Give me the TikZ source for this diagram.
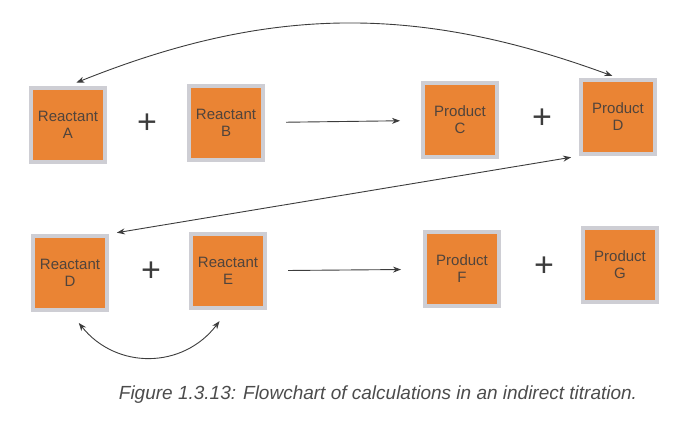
\documentclass[tikz,border=0pt]{standalone}
\usepackage{fontspec}
\setmainfont{Liberation Sans}
\usetikzlibrary{arrows.meta, positioning, calc, shadows}

\definecolor{boxorange}{RGB}{234,132,52}
\definecolor{framegray}{RGB}{206,206,212}
\definecolor{linegray}{RGB}{60,60,60}
\definecolor{textgray}{RGB}{80,68,60}

\begin{document}
\begin{tikzpicture}[x=1pt, y=1pt,
        node distance=80pt and 80pt, % gap between frames
        % styles
        chem/.style={rectangle, minimum width=74pt, minimum height=74pt, inner sep=0pt, fill=boxorange, draw=framegray, line width=4pt, drop shadow={shadow xshift=1.5pt, shadow yshift=-1.5pt, fill=black!40}, text=textgray, font=\fontsize{15}{17}\selectfont, align=center},
        plussign/.style={font=\fontsize{34}{34}\selectfont, text=linegray, inner sep=0pt},
        arrow/.style={line width=0.9pt, draw=linegray, -{Stealth[length=8pt,width=6pt]}},
        twoway/.style={line width=0.9pt, draw=linegray, {Stealth[length=8pt,width=6pt]}-{Stealth[length=8pt,width=6pt]}} ]

    \useasboundingbox (0,0) rectangle (692,-422);

    % --- ROW 1: A + B -> C + D ---
    \node (reacA) [chem] at (68,-125) {Reactant\\A};
    \node (reacB) [chem, right=of reacA, yshift=2pt] {Reactant\\B};
    \node (prodC) [chem, right=156pt of reacB, yshift=3pt] {Product\\C};
    \node (prodD) [chem, right=of prodC, yshift=3pt] {Product\\D};

    % --- ROW 2: D + E -> F + G ---
    \node (reacD) [chem] at (70,-273) {Reactant\\D};
    \node (reacE) [chem, right=of reacD, yshift=2pt] {Reactant\\E};
    \node (prodF) [chem, right=156pt of reacE, yshift=2pt] {Product\\F};
    \node (prodG) [chem, right=of prodF, yshift=4pt] {Product\\G};

    % plus signs
    \node (plus1) [plussign] at ($(reacA)!0.5!(reacB)$) {+};
    \node (plus2) [plussign, xshift=3pt] at ($(prodC)!0.5!(prodD)$) {+};
    \node (plus3) [plussign, xshift=2pt] at ($(reacD)!0.5!(reacE)$) {+};
    \node (plus4) [plussign, xshift=3pt] at ($(prodF)!0.5!(prodG)$) {+};

    % --- CONNECTIONS ---
    \draw [arrow, shorten <=21pt, shorten >=21pt] (reacB) -- (prodC);
    \draw [arrow, shorten <=21pt, shorten >=22pt] (reacE) -- (prodF);

    % links between the two rows
    \draw [twoway, shorten <=9pt, shorten >=6pt] (reacA.north) to[bend left=21] (prodD.north);
    \draw [twoway, shorten <=8pt, shorten >=8pt] (reacD.north east) -- (prodD.south west);
    \draw [twoway, shorten <=14pt, shorten >=14pt] (reacD.south) to[bend right=52, looseness=1.2] (reacE.south);

    % caption
    \node (caption) at (378,-395) [text=black!70, font=\fontsize{19}{21}\selectfont\itshape] {Figure 1.3.13: Flowchart of calculations in an indirect titration.};

\end{tikzpicture}
\end{document}
